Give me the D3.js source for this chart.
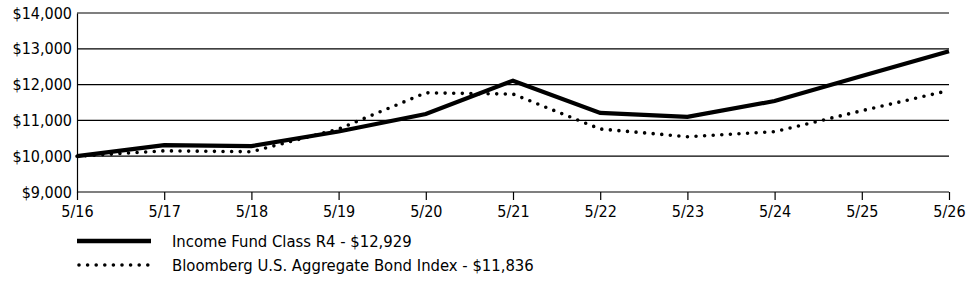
<!DOCTYPE html>
<html>
<head>
<meta charset="utf-8">
<script src="https://cdn.jsdelivr.net/npm/d3@7"></script>
<style>
body { margin: 0; background: #fff; }
svg { display: block; }
text { font-family: "Liberation Sans Narrow", "DejaVu Sans Condensed", "Arial Narrow", sans-serif; fill: #000; }
</style>
</head>
<body>
<div id="canvas"></div>
<script>
// data
var dates = ['5/16','5/17','5/18','5/19','5/20','5/21','5/22','5/23','5/24','5/25','5/26'];
var fund = [10000, 10310, 10280, 10690, 11180, 12110, 11210, 11100, 11540, 12240, 12929];
var index = [10000, 10150, 10125, 10760, 11770, 11735, 10760, 10545, 10685, 11270, 11836];
var yTicks = [9000, 10000, 11000, 12000, 13000, 14000];
var seriesNames = ['Income Fund Class R4 - $12,929', 'Bloomberg U.S. Aggregate Bond Index - $11,836'];

var W = 975, H = 281;
var m = {t:13, r:26, b:89, l:77},
    w = W - m.l - m.r,
    h = H - m.t - m.b;

var svg = d3.select('#canvas')
    .append('svg')
    .attr('width', W)
    .attr('height', H);

var plot = svg.append('g')
    .attr('transform', 'translate(' + m.l + ',' + m.t + ')');

var x = d3.scalePoint().domain(dates).range([0, w]);
var y = d3.scaleLinear().domain([9000, 14000]).range([h, 0]);

// gridlines
plot.selectAll('.grid')
    .data(yTicks)
    .enter()
    .append('line')
    .attr('class', 'grid')
    .attr('x1', 0).attr('x2', w)
    .attr('y1', function(d){ return y(d); })
    .attr('y2', function(d){ return y(d); })
    .style('stroke', '#000')
    .style('stroke-width', 1.2);

// y axis
var yAxis = d3.axisLeft(y)
    .tickValues(yTicks)
    .tickSize(0)
    .tickPadding(5)
    .tickFormat(function(d){ return '$' + d3.format(',')(d); });
var gy = plot.append('g').call(yAxis);
gy.select('.domain').style('stroke', '#000').style('stroke-width', 1.2);
gy.selectAll('text').style('font-size', '16px');

// x axis
var xAxis = d3.axisBottom(x)
    .tickSize(8)
    .tickSizeOuter(0)
    .tickPadding(6);
var gx = plot.append('g')
    .attr('transform', 'translate(0,' + h + ')')
    .call(xAxis);
gx.select('.domain').remove();
gx.selectAll('line').style('stroke', '#000').style('stroke-width', 1.2);
gx.selectAll('text').style('font-size', '16px');

var line = d3.line()
    .x(function(d, i){ return x(dates[i]); })
    .y(function(d){ return y(d); });

plot.append('path')
    .datum(index)
    .attr('d', line)
    .style('fill', 'none')
    .style('stroke', '#000')
    .style('stroke-width', 3.6)
    .style('stroke-linecap', 'round')
    .style('stroke-dasharray', '0,8.6');

plot.append('path')
    .datum(fund)
    .attr('d', line)
    .style('fill', 'none')
    .style('stroke', '#000')
    .style('stroke-width', 4.2);

// legend
var legend = svg.selectAll('.legend')
    .data(seriesNames)
    .enter()
    .append('g')
    .attr('class', 'legend')
    .attr('transform', function(d, i){ return 'translate(77,' + (241 + i * 24) + ')'; });

legend.append('line')
    .attr('x1', function(d, i){ return i == 0 ? 0 : 2; })
    .attr('x2', 74)
    .style('stroke', '#000')
    .style('stroke-width', function(d, i){ return i == 0 ? 4.5 : 3.6; })
    .style('stroke-linecap', function(d, i){ return i == 0 ? 'butt' : 'round'; })
    .style('stroke-dasharray', function(d, i){ return i == 0 ? null : '0,8.6'; });

legend.append('text')
    .attr('x', 95)
    .attr('dy', '0.35em')
    .style('font-size', '16.5px')
    .text(function(d){ return d; });
</script>
</body>
</html>
